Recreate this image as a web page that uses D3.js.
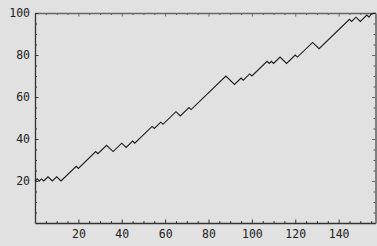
<!DOCTYPE html>
<html><head><meta charset="utf-8">
<script src="https://cdn.jsdelivr.net/npm/d3@7"></script>
<style>
html,body{margin:0;padding:0;background:#e1e1e1;}
svg{display:block;}
</style></head>
<body>
<script>
// Turning points of the walk
const xs = [0,1,2,3,4,6,8,10,12,19,20,28,29,33,36,40,42,45,46,54,55,58,59,65,67,71,72,88,92,95,96,99,100,107,108,109,110,113,116,120,121,128,131,145,146,148,150,153,154,155,157];
const ys = [20,21,20,21,20,22,20,22,20,27,26,34,33,37,34,38,36,39,38,46,45,48,47,53,51,55,54,70,66,69,68,71,70,77,76,77,76,79,76,80,79,86,83,97,96,98,96,99,98,99.5,100];
const xMajor = [20,40,60,80,100,120,140];
const yMajor = [20,40,60,80,100];
const xMinor = [5,10,15,25,30,35,45,50,55,65,70,75,85,90,95,105,110,115,125,130,135,145,150,155];
const yMinor = [5,10,15,25,30,35,45,50,55,65,70,75,85,90,95];

const W = 377, H = 246;
const m = {left:35, top:13, right:1.5, bottom:23};
const svg = d3.select("body").append("svg").attr("width", W).attr("height", H);
svg.append("rect").attr("width", W).attr("height", H).attr("fill", "#e1e1e1");

const x = d3.scaleLinear().domain([0,157]).range([m.left, W - m.right]);
const y = d3.scaleLinear().domain([0,100]).range([H - m.bottom, m.top]);

const font = "'DejaVu Sans Mono', monospace";

function style(g, col, w) {
  g.select(".domain").attr("stroke", col).attr("stroke-width", w);
  g.selectAll(".tick line").attr("stroke", col);
  g.selectAll("text").attr("font-family", font).attr("font-size", 11.5).attr("fill", "#222");
}

// minor ticks
svg.append("g").attr("transform", `translate(0,${y(0)})`)
  .call(d3.axisBottom(x).tickValues(xMinor).tickSize(-2).tickSizeOuter(0).tickFormat(""))
  .call(g => { g.select(".domain").remove(); g.selectAll("line").attr("stroke","#333"); });
svg.append("g").attr("transform", `translate(0,${y(100)})`)
  .call(d3.axisTop(x).tickValues(xMinor).tickSize(-2).tickSizeOuter(0).tickFormat(""))
  .call(g => { g.select(".domain").remove(); g.selectAll("line").attr("stroke","#555"); });
svg.append("g").attr("transform", `translate(${x(0)},0)`)
  .call(d3.axisLeft(y).tickValues(yMinor).tickSize(-2).tickSizeOuter(0).tickFormat(""))
  .call(g => { g.select(".domain").remove(); g.selectAll("line").attr("stroke","#333"); });
svg.append("g").attr("transform", `translate(${x(157)},0)`)
  .call(d3.axisRight(y).tickValues(yMinor).tickSize(-2).tickSizeOuter(0).tickFormat(""))
  .call(g => { g.select(".domain").remove(); g.selectAll("line").attr("stroke","#555"); });

// major axes
svg.append("g").attr("transform", `translate(0,${y(0)})`)
  .call(d3.axisBottom(x).tickValues(xMajor).tickSize(-3.5).tickSizeOuter(0).tickPadding(7).tickFormat(d3.format("d")))
  .call(g => style(g, "#333", 1.3));
svg.append("g").attr("transform", `translate(0,${y(100)})`)
  .call(d3.axisTop(x).tickValues(xMajor).tickSize(-3.5).tickSizeOuter(0).tickFormat(""))
  .call(g => style(g, "#666", 1.3));
svg.append("g").attr("transform", `translate(${x(0)},0)`)
  .call(d3.axisLeft(y).tickValues(yMajor).tickSize(-3.5).tickSizeOuter(0).tickPadding(5).tickFormat(d3.format("d")))
  .call(g => style(g, "#333", 1.3));
svg.append("g").attr("transform", `translate(${x(157)},0)`)
  .call(d3.axisRight(y).tickValues(yMajor).tickSize(-3.5).tickSizeOuter(0).tickFormat(""))
  .call(g => style(g, "#666", 1.6));

// data line
const pts = xs.map((v,i) => [v, ys[i]]);
svg.append("path").datum(pts)
  .attr("fill", "none").attr("stroke", "#1a1a1a").attr("stroke-width", 1.1)
  .attr("d", d3.line().x(d => x(d[0])).y(d => y(d[1])));
</script>
</body></html>
